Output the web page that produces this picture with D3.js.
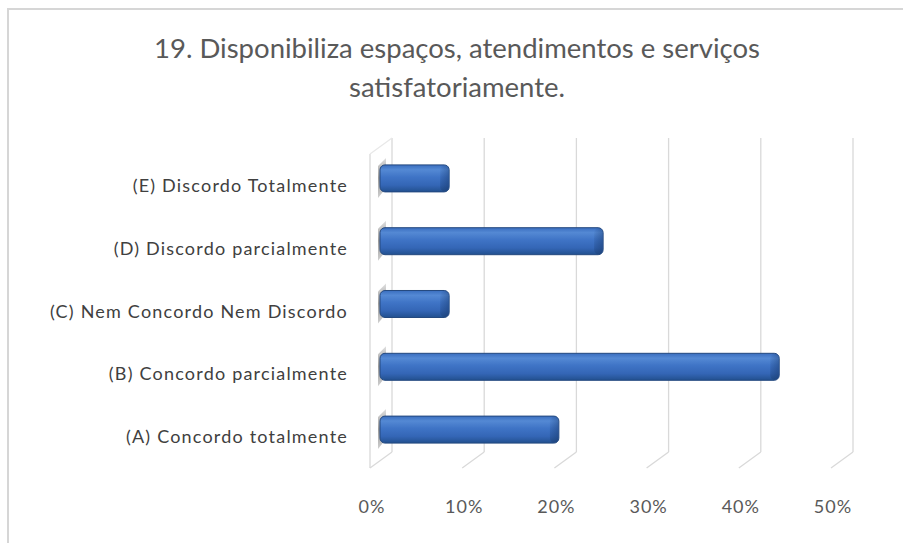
<!DOCTYPE html>
<html>
<head>
<meta charset="utf-8">
<script src="https://cdn.jsdelivr.net/npm/d3@7"></script>
<style>
  body { margin: 0; background: #fff; }
  svg { display: block; font-family: Lato, "Open Sans", sans-serif; }
</style>
</head>
<body>
<div id="chart"></div>
<script>
var categories = ["(E) Discordo Totalmente", "(D) Discordo parcialmente", "(C) Nem Concordo Nem Discordo", "(B) Concordo parcialmente", "(A) Concordo totalmente"];
var values = [0.075, 0.242, 0.075, 0.433, 0.194];
var ticks = [0, 0.1, 0.2, 0.3, 0.4, 0.5];
var titleLines = ["19. Disponibiliza espaços, atendimentos e serviços", "satisfatoriamente."];

var width = 903, height = 543;
var svg = d3.select('#chart').append('svg')
    .attr('width', width)
    .attr('height', height);

// 3d box: back wall, and the offset to the front plane
var plotTop = 138, plotBottom = 452;
var depthX = -22, depthY = 16;
var barDx = -12, barDy = 9;

var x = d3.scaleLinear().domain([0, 0.5]).range([392, 853]);
var y = d3.scaleBand().domain(categories).range([plotTop, plotBottom]).paddingInner(0.57).paddingOuter(0.285);

var defs = svg.append('defs');
var grad = defs.append('linearGradient').attr('id', 'barGrad')
    .attr('x1', 0).attr('y1', 0).attr('x2', 0).attr('y2', 1);
grad.append('stop').attr('offset', '0%').attr('stop-color', '#3a6ebf');
grad.append('stop').attr('offset', '18%').attr('stop-color', '#5489d4');
grad.append('stop').attr('offset', '45%').attr('stop-color', '#3f74c6');
grad.append('stop').attr('offset', '75%').attr('stop-color', '#3466b6');
grad.append('stop').attr('offset', '100%').attr('stop-color', '#22508f');
var capGrad = defs.append('linearGradient').attr('id', 'capGrad')
    .attr('x1', 0).attr('y1', 0).attr('x2', 1).attr('y2', 1);
capGrad.append('stop').attr('offset', '0%').attr('stop-color', '#1c3f75').attr('stop-opacity', 0);
capGrad.append('stop').attr('offset', '100%').attr('stop-color', '#1c3f75').attr('stop-opacity', 0.7);
var sideGrad = defs.append('linearGradient').attr('id', 'sideGrad')
    .attr('x1', 0).attr('y1', 0).attr('x2', 0).attr('y2', 1);
sideGrad.append('stop').attr('offset', '0%').attr('stop-color', '#e0e0e0');
sideGrad.append('stop').attr('offset', '50%').attr('stop-color', '#9a9a9a');
sideGrad.append('stop').attr('offset', '100%').attr('stop-color', '#d0d0d0');

// chart frame (only top and left edges are in the picture)
svg.append('path')
    .attr('d', 'M8,' + height + 'V9H' + width)
    .attr('fill', 'none')
    .attr('stroke', '#d6d6d6')
    .attr('stroke-width', 2);

// title
svg.append('g').selectAll('text')
    .data(titleLines).enter()
    .append('text')
    .attr('x', 457)
    .attr('y', function (d, i) { return 51 + i * 39; })
    .attr('text-anchor', 'middle')
    .attr('dominant-baseline', 'middle')
    .attr('fill', '#595959')
    .style('font-size', '27.5px')
    .text(function (d) { return d; });

// gridlines
var grid = svg.append('g').attr('stroke', '#d9d9d9').attr('stroke-width', 1.3).attr('fill', 'none');
grid.selectAll('.back')
    .data(ticks).enter()
    .append('line')
    .attr('x1', function (d) { return x(d); })
    .attr('x2', function (d) { return x(d); })
    .attr('y1', plotTop)
    .attr('y2', plotBottom);
grid.selectAll('.floor')
    .data(ticks).enter()
    .append('line')
    .attr('x1', function (d) { return x(d); })
    .attr('x2', function (d) { return x(d) + depthX; })
    .attr('y1', plotBottom)
    .attr('y2', plotBottom + depthY);
// side wall front edge and top
grid.append('line')
    .attr('x1', x(0) + depthX).attr('x2', x(0) + depthX)
    .attr('y1', plotTop + depthY).attr('y2', plotBottom + depthY);
grid.append('line')
    .attr('x1', x(0)).attr('x2', x(0) + depthX)
    .attr('y1', plotTop).attr('y2', plotTop + depthY)
    .attr('stroke', '#e8e8e8');

// bars
var bars = svg.append('g').selectAll('g')
    .data(categories).enter()
    .append('g');

bars.append('path')
    .attr('d', function (d) {
      var x0 = x(0) + barDx, y0 = y(d) + barDy, h = y.bandwidth();
      return 'M' + (x0 - 2) + ',' + (y0 + 1) + 'L' + (x0 + 6) + ',' + (y0 - 7) +
        'L' + (x0 + 6) + ',' + (y0 + h - 4) + 'L' + (x0 - 2) + ',' + (y0 + h + 6) + 'Z';
    })
    .attr('fill', 'url(#sideGrad)');

bars.append('rect')
    .attr('x', x(0) + barDx)
    .attr('y', function (d) { return y(d) + barDy; })
    .attr('width', function (d, i) { return x(values[i]) - x(0); })
    .attr('height', y.bandwidth())
    .attr('rx', 5)
    .attr('fill', 'url(#barGrad)')
    .attr('stroke', '#24497f')
    .attr('stroke-width', 1);

bars.append('rect')
    .attr('x', function (d, i) { return x(values[i]) + barDx - 9; })
    .attr('y', function (d) { return y(d) + barDy + 0.5; })
    .attr('width', 8.5)
    .attr('height', y.bandwidth() - 1)
    .attr('rx', 4.5)
    .attr('fill', 'url(#capGrad)');

// category labels
svg.append('g').selectAll('text')
    .data(categories).enter()
    .append('text')
    .attr('x', 348)
    .attr('y', function (d) { return y(d) + y.bandwidth() / 2 + 18; })
    .attr('text-anchor', 'end')
    .attr('dominant-baseline', 'middle')
    .attr('fill', '#404040')
    .style('font-size', '18px')
    .style('letter-spacing', '1.2px')
    .text(function (d) { return d; });

// value axis labels
svg.append('g').selectAll('text')
    .data(ticks).enter()
    .append('text')
    .attr('x', function (d) { return x(d) + depthX + 2; })
    .attr('y', 508)
    .attr('text-anchor', 'middle')
    .attr('dominant-baseline', 'middle')
    .attr('fill', '#595959')
    .style('font-size', '18px')
    .style('letter-spacing', '1px')
    .text(function (d) { return d3.format('.0%')(d); });
</script>
</body>
</html>
